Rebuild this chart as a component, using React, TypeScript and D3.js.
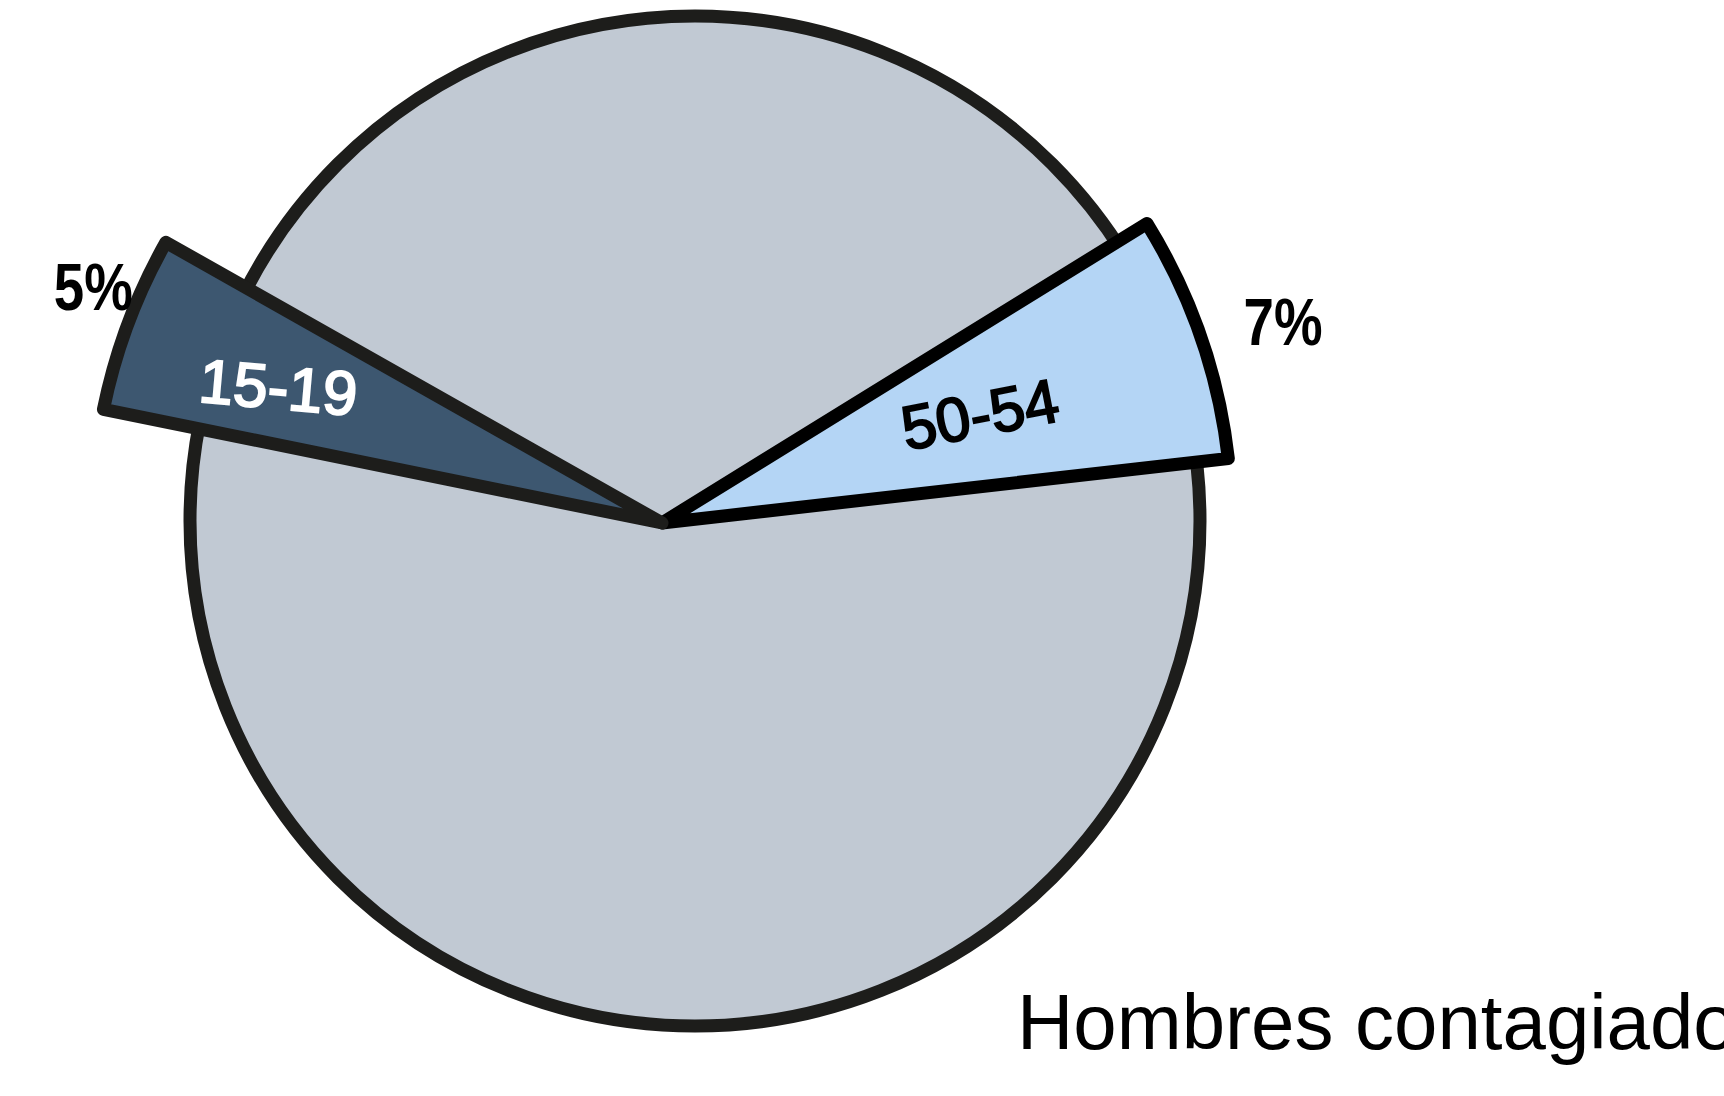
import React from 'react';
import * as d3 from 'd3';

// age groups of the pie, clockwise from the start angle
const groups = ['50-54', 'Otros grupos A', '15-19', 'Otros grupos B'];
const shares = [7, 55, 5, 33];
const highlighted = ['15-19', '50-54'];
const pctLabels = ['7%', '', '5%', ''];
const caption = 'Hombres contagiados';

const width = 1724;
const height = 1096;

// background disc and the pulled-out wedges
const disc = { cx: 695, cy: 521, r: 505 };
const apex = { x: 662, y: 523 };
const wedgeR = 570;
const startDeg = 58.3;

const fills: Record<string, string> = {
  '15-19': '#3d5770',
  '50-54': '#b4d5f5',
};
const strokes: Record<string, string> = {
  '15-19': '#1d1d1b',
  '50-54': '#000000',
};
const textFills: Record<string, string> = {
  '15-19': '#ffffff',
  '50-54': '#000000',
};
// label placement tweaks (radius from apex, angle shift in degrees, rotation)
const labelLayout: Record<string, { pctR: number; pctShift: number; nameR: number; nameShift: number; rot: number }> = {
  '15-19': { pctR: 616, pctShift: 2.1, nameR: 407, nameShift: -1.0, rot: 5 },
  '50-54': { pctR: 653, pctShift: 1.1, nameR: 336, nameShift: 0.2, rot: -11 },
};

const toRad = (deg: number) => (deg * Math.PI) / 180;

const App: React.FC = () => {
  const data = groups.map((g, i) => ({ group: g, value: shares[i], pct: pctLabels[i] }));
  const start = toRad(startDeg);
  const pie = d3
    .pie<{ group: string; value: number; pct: string }>()
    .sort(null)
    .value((d) => d.value)
    .startAngle(start)
    .endAngle(start + 2 * Math.PI);
  const arcs = pie(data);

  const discArc = d3.arc<any>()({
    innerRadius: 0,
    outerRadius: disc.r,
    startAngle: 0,
    endAngle: 2 * Math.PI,
  } as any);

  const wedge = d3.arc<d3.PieArcDatum<any>>().innerRadius(0).outerRadius(wedgeR);

  const polar = (r: number, a: number) => [r * Math.sin(a), -r * Math.cos(a)];

  const shown = arcs.filter((a) => highlighted.includes(a.data.group));

  return (
    <svg
      width={width}
      height={height}
      style={{ position: 'absolute', left: 0, top: 0, background: '#ffffff' }}
      fontFamily="'Liberation Sans', Arial, sans-serif"
    >
      <g transform={`translate(${disc.cx},${disc.cy})`}>
        <path d={discArc || ''} fill="#c1c9d3" stroke="#1d1d1b" strokeWidth={13} />
      </g>
      <g transform={`translate(${apex.x},${apex.y})`}>
        {shown.map((a) => (
          <path
            key={a.data.group}
            d={wedge(a) || ''}
            fill={fills[a.data.group]}
            stroke={strokes[a.data.group]}
            strokeWidth={13}
            strokeLinejoin="round"
          />
        ))}
        {shown.map((a) => {
          const lay = labelLayout[a.data.group];
          const mid = (a.startAngle + a.endAngle) / 2;
          const [nx, ny] = polar(lay.nameR, mid + toRad(lay.nameShift));
          const [px, py] = polar(lay.pctR, mid + toRad(lay.pctShift));
          return (
            <g key={`lab-${a.data.group}`}>
              <text
                transform={`translate(${nx},${ny}) rotate(${lay.rot})`}
                textAnchor="middle"
                dy="0.35em"
                fontSize={62}
                fill={textFills[a.data.group]}
                stroke={textFills[a.data.group]}
                strokeWidth={2}
              >
                {a.data.group}
              </text>
              <text
                x={px}
                y={py}
                textAnchor="middle"
                dy="0.36em"
                fontSize={66}
                fontWeight="bold"
                fill="#000000"
                textLength={79}
                lengthAdjust="spacingAndGlyphs"
              >
                {a.data.pct}
              </text>
            </g>
          );
        })}
      </g>
      <text x={1017} y={1049} fontSize={78} fill="#000000">
        {caption}
      </text>
    </svg>
  );
};

export default App;
